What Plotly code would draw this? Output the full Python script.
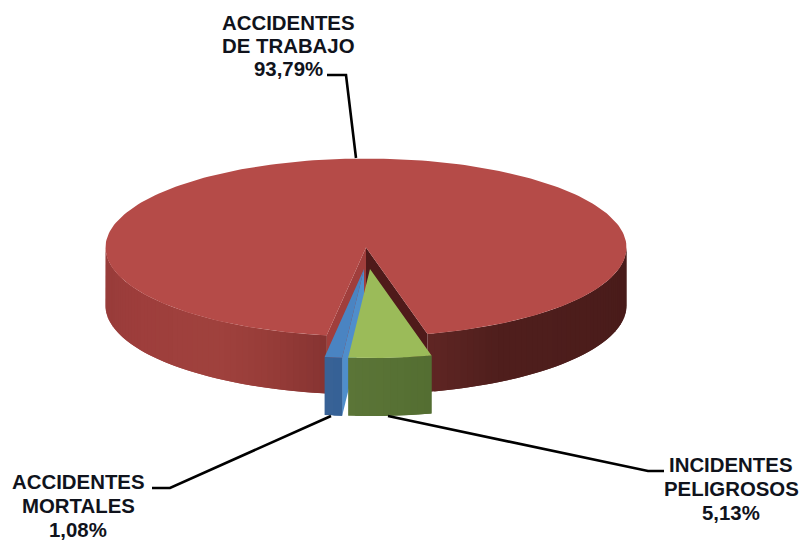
import numpy as np
import plotly.graph_objects as go

# ---- data ----
categories = ["ACCIDENTES MORTALES", "INCIDENTES PELIGROSOS", "ACCIDENTES DE TRABAJO"]
values = [1.08, 5.13, 93.79]
value_labels = ["1,08%", "5,13%", "93,79%"]
label_lines = [["ACCIDENTES", "MORTALES"], ["INCIDENTES", "PELIGROSOS"], ["ACCIDENTES", "DE TRABAJO"]]

# ---- projection / style ----
RX, RY, DEPTH = 260.5, 89.0, 58.0
START = -8.7
centers = [(364, 269), (370, 269), (366, 247.5)]
top_col = ["#4a84c2", "#9bbb59", "#b54b48"]
cut_col = ["#4f8ecb", None, None]
red_cut = ["#4f1a1a", "#a03e3c"]
wall_stops = [
    [(-10, (58, 100, 150)), (-3, (52, 96, 150))],
    [(-5, (92, 118, 56)), (14, (84, 110, 50))],
    [(14, (96, 38, 36)), (30, (80, 31, 29)), (90, (72, 27, 26)),
     (270, (150, 60, 58)), (300, (158, 62, 60)), (325, (160, 66, 62)),
     (340, (150, 60, 56)), (352, (134, 52, 50))],
]
label_pos = [(78, [482, 506, 530]), (731, [465, 489, 513]), (288, [23, 46, 69])]
leaders = [([152, 170, 331], [488, 488, 416]),
           ([664, 648, 388], [471, 471, 416]),
           ([327, 346, 356], [75, 75, 158])]


def pt(c, deg, dz=0.0):
    t = np.radians(deg)
    return c[0] + RX * np.sin(t), c[1] + RY * np.cos(t) + dz


def col_at(stops, deg):
    xs = [s[0] for s in stops]
    rgb = [int(np.interp(deg, xs, [s[1][k] for s in stops])) for k in range(3)]
    return f"rgb({rgb[0]},{rgb[1]},{rgb[2]})"


fig = go.Figure()


def poly(xs, ys, color):
    fig.add_trace(go.Scatter(x=list(xs), y=list(ys), mode="lines", fill="toself",
                             fillcolor=color, line=dict(width=0),
                             hoverinfo="skip", showlegend=False))


# angular spans from the values
spans = []
a0 = START
for v in values:
    a1 = a0 + v / sum(values) * 360
    spans.append((a0, a1))
    a0 = a1


def wedge_top(i):
    c = centers[i]
    a, b = spans[i]
    th = np.linspace(a, b, 240)
    x, y = pt(c, th)
    poly(np.r_[c[0], x, c[0]], np.r_[c[1], y, c[1]], top_col[i])


def outer_wall(i):
    c = centers[i]
    a, b = spans[i]
    for lo, hi in ((a, min(b, 90)), (max(a, 270), b)):
        if hi <= lo:
            continue
        n = max(2, int((hi - lo) / 1.5))
        edges = np.linspace(lo, hi, n + 1)
        step = edges[1] - edges[0]
        # segments overlap the next one, so no seams show through
        for e0, e1 in zip(edges[:-1], edges[1:]):
            th = np.linspace(e0, min(e1 + step, hi), 6)
            x, y = pt(c, th)
            xb, yb = pt(c, th[::-1], DEPTH)
            poly(np.r_[x, xb], np.r_[y, yb], col_at(wall_stops[i], (e0 + e1) / 2))


def cut_wall(i, deg, color):
    c = centers[i]
    x, y = pt(c, deg)
    poly([c[0], x, x, c[0]], [c[1], y, y + DEPTH, c[1] + DEPTH], color)


# large slice first: its cut walls, wall and top
cut_wall(2, spans[2][1], red_cut[1])
cut_wall(2, spans[2][0], red_cut[0])
outer_wall(2)
wedge_top(2)
# small slices, exploded towards the viewer
cut_wall(0, spans[0][1], cut_col[0])
outer_wall(0)
wedge_top(0)
outer_wall(1)
wedge_top(1)

for lx, ly in leaders:
    fig.add_trace(go.Scatter(x=lx, y=ly, mode="lines", line=dict(color="#000", width=2.6),
                             hoverinfo="skip", showlegend=False))

for i, (cx, ys) in enumerate(label_pos):
    for line, yy in zip(label_lines[i] + [value_labels[i]], ys):
        fig.add_annotation(x=cx, y=yy, text=f"<b>{line}</b>", showarrow=False,
                           xanchor="center", yanchor="middle",
                           font=dict(family="Liberation Sans", size=20.4, color="#10131c"))

fig.update_layout(
    width=800, height=540, margin=dict(l=0, r=0, t=0, b=0),
    paper_bgcolor="white", plot_bgcolor="white", showlegend=False,
    xaxis=dict(range=[0, 800], visible=False, fixedrange=True),
    yaxis=dict(range=[540, 0], visible=False, fixedrange=True),
)
fig.write_html("out.html", config={"displayModeBar": False},
               post_script="document.body.style.margin='0';document.body.style.overflow='hidden';")
